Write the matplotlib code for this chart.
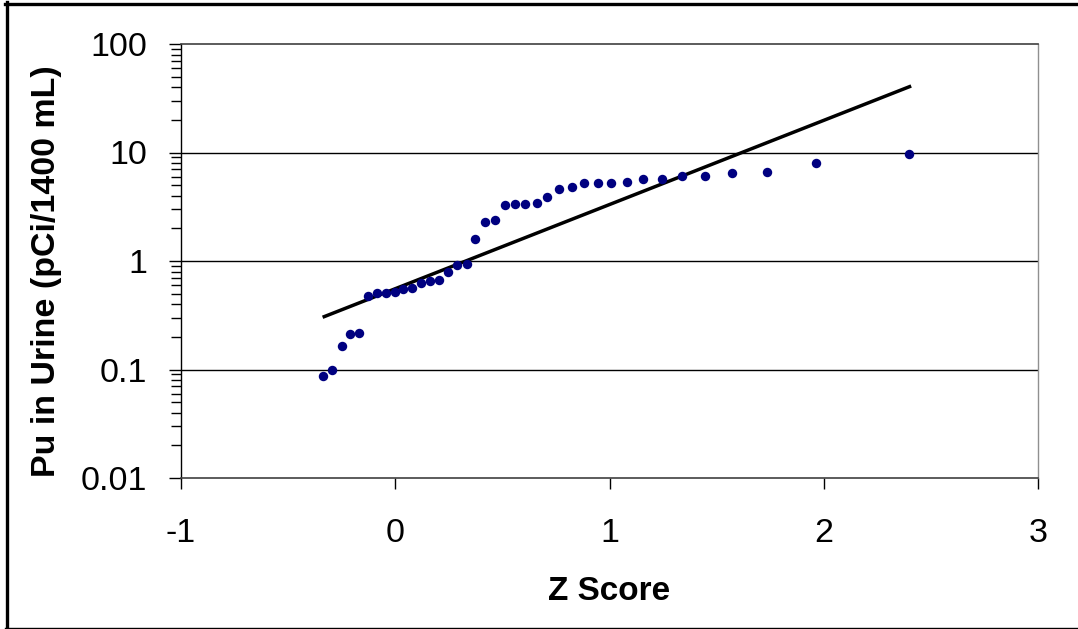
import matplotlib
matplotlib.use("Agg")
import matplotlib.pyplot as plt
from matplotlib.ticker import FixedLocator, FixedFormatter, LogLocator, NullFormatter
from matplotlib.lines import Line2D

plt.rcParams['font.family'] = ['Liberation Sans', 'DejaVu Sans']

# Observed data (Z score, Pu in urine pCi/1400 mL)
z_scores = [-0.339, -0.297, -0.250, -0.210, -0.168, -0.127, -0.087, -0.045, -0.003,
            0.037, 0.078, 0.118, 0.163, 0.205, 0.246, 0.286, 0.335, 0.373, 0.421,
            0.464, 0.510, 0.559, 0.607, 0.660, 0.709, 0.762, 0.823, 0.879, 0.944,
            1.008, 1.081, 1.156, 1.245, 1.340, 1.448, 1.570, 1.735, 1.965, 2.400]
pu_values = [0.087, 0.098, 0.166, 0.212, 0.218, 0.475, 0.51, 0.507, 0.52,
             0.556, 0.567, 0.63, 0.65, 0.668, 0.80, 0.92, 0.94, 1.6, 2.3,
             2.37, 3.26, 3.35, 3.35, 3.44, 3.91, 4.58, 4.84, 5.2, 5.2,
             5.2, 5.35, 5.66, 5.66, 6.07, 6.07, 6.43, 6.65, 7.94, 9.6]

# Fitted lognormal line endpoints
fit_z = [-0.339, 2.408]
fit_y = [0.303, 41.0]

x_ticks = [-1, 0, 1, 2, 3]
x_tick_labels = ['-1', '0', '1', '2', '3']
y_ticks = [0.01, 0.1, 1, 10, 100]
y_tick_labels = ['0.01', '0.1', '1', '10', '100']

fig = plt.figure(figsize=(10.78, 6.29), dpi=100)
ax = fig.add_axes([181/1078, 1-478/629, (1038-181)/1078, (478-44)/629])

ax.set_yscale('log')
ax.set_xlim(-1, 3)
ax.set_ylim(0.01, 100)

for yv in [0.1, 1, 10]:
    ax.axhline(yv, color='black', lw=1.0, zorder=1)

ax.plot(fit_z, fit_y, color='black', lw=2.5, zorder=2, solid_capstyle='butt')
ax.plot(z_scores, pu_values, linestyle='none', marker='o', ms=6.8,
        color='#000080', markeredgewidth=0, zorder=3)

ax.xaxis.set_major_locator(FixedLocator(x_ticks))
ax.xaxis.set_major_formatter(FixedFormatter(x_tick_labels))
ax.yaxis.set_major_locator(FixedLocator(y_ticks))
ax.yaxis.set_major_formatter(FixedFormatter(y_tick_labels))
ax.yaxis.set_minor_locator(LogLocator(base=10, subs=range(2, 10)))
ax.yaxis.set_minor_formatter(NullFormatter())

ax.tick_params(axis='x', which='major', direction='out', length=8, width=1,
               labelsize=24.5, pad=21, color='black')
ax.tick_params(axis='y', which='major', direction='out', length=8.5, width=1,
               labelsize=24.5, pad=16, color='black')
ax.tick_params(axis='y', which='minor', direction='out', length=7, width=1,
               color='black')
ax.tick_params(axis='x', which='minor', bottom=False)

ax.spines['left'].set_color('black')
ax.spines['left'].set_linewidth(1.0)
ax.spines['bottom'].set_color('#404040')
ax.spines['bottom'].set_linewidth(1.2)
ax.spines['top'].set_color('#404040')
ax.spines['top'].set_linewidth(1.2)
ax.spines['right'].set_color('#909090')
ax.spines['right'].set_linewidth(1.0)

fig.text(609/1078, 1-591/629, 'Z Score', fontsize=24, fontweight='bold',
         ha='center', va='center')
fig.text(47/1078, 1-271/629, 'Pu in Urine (pCi/1400 mL)', fontsize=24.5,
         fontweight='bold', rotation=90, ha='center', va='center')

# Outer frame
fig.add_artist(Line2D([6.5/1078, 6.5/1078], [0, 1-2/629], transform=fig.transFigure,
                      color='black', lw=2.4))
fig.add_artist(Line2D([5/1078, 1], [1-4/629, 1-4/629], transform=fig.transFigure,
                      color='black', lw=2.4))
fig.add_artist(Line2D([5/1078, 1], [1-627.5/629, 1-627.5/629], transform=fig.transFigure,
                      color='black', lw=1.0))

fig.savefig('out.png', dpi=100)
